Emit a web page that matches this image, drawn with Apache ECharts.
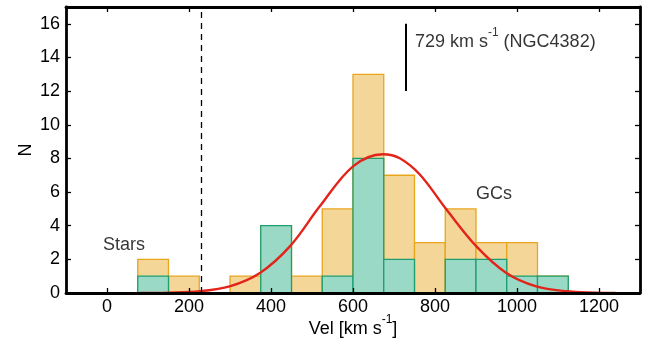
<!DOCTYPE html>
<html>
<head>
<meta charset="utf-8">
<script src="https://cdn.jsdelivr.net/npm/echarts@6/dist/echarts.min.js"></script>
<style>
html, body { margin: 0; padding: 0; background: #fff; }
#main { width: 647px; height: 340px; }
</style>
</head>
<body>
<div id="main"></div>
<script>
// histogram bins (km/s), width 75
var binWidth = 75;
var binStarts = [75, 150, 225, 300, 375, 450, 525, 600, 675, 750, 825, 900, 975, 1050];
var allCounts = [2, 1, 0, 1, 4, 1, 5, 13, 7, 3, 5, 3, 3, 1];
var gcCounts  = [1, 0, 0, 0, 4, 0, 1, 8, 2, 0, 2, 2, 1, 1];

// gaussian fit, points
var fitVel = [80, 150, 226, 299, 373, 446, 519, 600, 673, 714, 763, 828, 901, 974, 1047, 1120, 1190, 1240];
var fitN   = [0.0, 0.02, 0.1, 0.39, 1.19, 2.77, 5.15, 7.53, 8.25, 8.01, 7.04, 4.96, 2.77, 1.19, 0.39, 0.1, 0.02, 0.0];

var xTicks = [0, 200, 400, 600, 800, 1000, 1200];
var yTicks = [0, 2, 4, 6, 8, 10, 12, 14, 16];

var starLimit = 230;   // dashed separator
var ngcVel = 729;      // systemic velocity marker
var ngcRange = [12, 16];

var labelTexts = ['{t|729 km s}{s|-1}{t| (NGC4382)}', '{t|Stars}', '{t|GCs}'];
var labelX = [751, -10, 900];
var labelY = [15.1, 2.95, 6];

var font = 'Liberation Sans, Arial, Helvetica, sans-serif';
var richStyle = {
  t: { fontSize: 18, fontFamily: font, color: '#000', lineHeight: 22, verticalAlign: 'bottom' },
  s: { fontSize: 12, fontFamily: font, color: '#000', verticalAlign: 'bottom', padding: [0, 0, 12, 0] }
};

function histItem(fill, edge) {
  return function (params, api) {
    var x0 = api.value(0), n = api.value(1);
    if (!n) return;
    var p0 = api.coord([x0, 0]);
    var p1 = api.coord([x0 + binWidth, n]);
    return {
      type: 'rect',
      shape: { x: p0[0], y: p1[1], width: p1[0] - p0[0], height: p0[1] - p1[1] },
      style: { fill: fill, stroke: edge, lineWidth: 1.3 }
    };
  };
}

var tickStyle = { show: true, inside: true, length: 5, lineStyle: { color: '#000', width: 1.3 } };
var frameLine = { show: true, onZero: false, lineStyle: { color: '#000', width: 2.8 } };

var chart = echarts.init(document.getElementById('main'));
chart.setOption({
  animation: false,
  grid: { left: 66, right: 7, top: 7, bottom: 47, outerBoundsMode: 'none', containLabel: false },
  xAxis: [{
    type: 'value', min: -100, max: 1300, position: 'bottom', z: 10,
    axisLine: frameLine,
    axisTick: Object.assign({ customValues: xTicks }, tickStyle),
    axisLabel: {
      customValues: xTicks, fontSize: 18, fontFamily: font, color: '#000', margin: 5,
      formatter: function (v) { return String(v); }
    },
    splitLine: { show: false },
    name: '{t|Vel [km s}{s|-1}{t|]}',
    nameLocation: 'middle', nameGap: 21, nameMoveOverlap: false,
    nameTextStyle: { rich: richStyle }
  }, {
    type: 'value', min: -100, max: 1300, position: 'top', z: 10,
    axisLine: frameLine,
    axisTick: Object.assign({ customValues: xTicks }, tickStyle),
    axisLabel: { show: false },
    splitLine: { show: false }
  }],
  yAxis: [{
    type: 'value', min: 0, max: 17, position: 'left', z: 10,
    axisLine: frameLine,
    axisTick: Object.assign({ customValues: yTicks }, tickStyle),
    axisLabel: { customValues: yTicks, fontSize: 18, fontFamily: font, color: '#000', margin: 6 },
    splitLine: { show: false },
    name: 'N', nameLocation: 'middle', nameRotate: 90, nameGap: 31, nameMoveOverlap: false,
    nameTextStyle: { fontSize: 18, fontFamily: font, color: '#000' }
  }, {
    type: 'value', min: 0, max: 17, position: 'right', z: 10,
    axisLine: frameLine,
    axisTick: Object.assign({ customValues: yTicks }, tickStyle),
    axisLabel: { show: false },
    splitLine: { show: false }
  }],
  series: [{
    type: 'custom',
    renderItem: histItem('#f4d698', '#e9a51c'),
    data: binStarts.map(function (b, i) { return [b, allCounts[i]]; }),
    z: 2
  }, {
    type: 'custom',
    renderItem: histItem('#9bd9c7', '#1d9e6e'),
    data: binStarts.map(function (b, i) { return [b, gcCounts[i]]; }),
    z: 3
  }, {
    type: 'line',
    smooth: 0.35,
    showSymbol: false,
    lineStyle: { color: '#e3241b', width: 2.4 },
    data: fitVel.map(function (v, i) { return [v, fitN[i]]; }),
    z: 4,
    markLine: {
      silent: true, symbol: 'none', label: { show: false },
      data: [
        { xAxis: starLimit, lineStyle: { color: '#000', width: 1.3, type: [6, 5] } },
        [{ coord: [ngcVel, ngcRange[0]], lineStyle: { color: '#000', width: 2, type: 'solid' } },
         { coord: [ngcVel, ngcRange[1]] }]
      ]
    }
  }, {
    type: 'scatter',
    symbolSize: 0,
    silent: true,
    data: labelX.map(function (x, i) { return [x, labelY[i], labelTexts[i]]; }),
    label: {
      show: true, position: [0, 0], align: 'left', verticalAlign: 'middle',
      formatter: function (p) { return p.data[2]; },
      rich: richStyle
    },
    z: 5
  }]
});
</script>
</body>
</html>
